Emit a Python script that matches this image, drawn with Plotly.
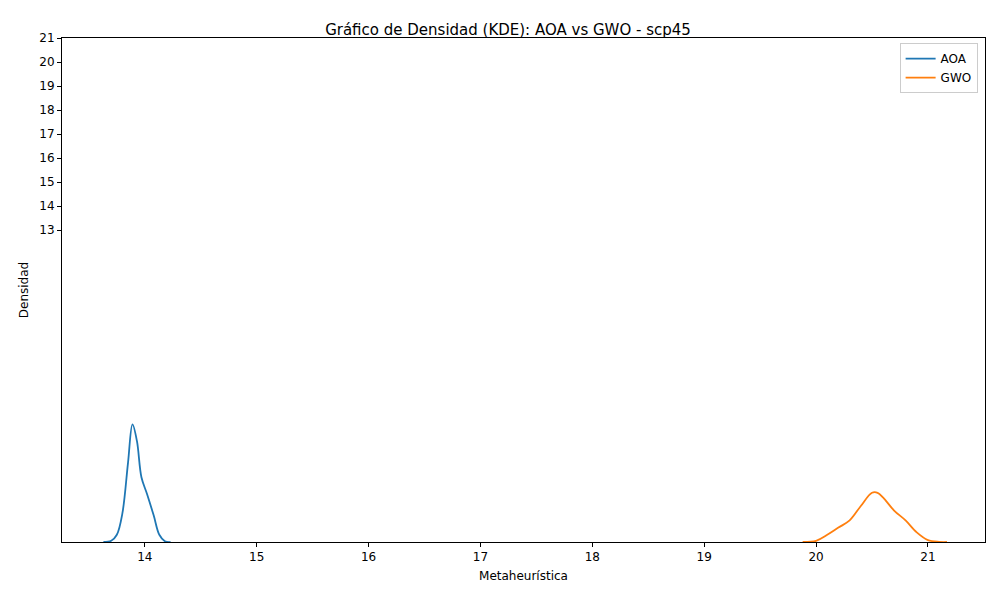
import plotly.graph_objects as go

# KDE curves
aoa_x = [13.63, 13.70, 13.75, 13.80, 13.85, 13.89, 13.93, 13.97, 14.02, 14.08, 14.13, 14.18, 14.23]
aoa_y = [0.0, 0.05, 0.3, 1.2, 3.3, 4.9, 4.2, 2.7, 2.0, 1.1, 0.3, 0.03, 0.0]
gwo_x = [19.88, 20.0, 20.1, 20.2, 20.3, 20.4, 20.5, 20.55, 20.6, 20.7, 20.8, 20.9, 21.0, 21.1, 21.17]
gwo_y = [0.0, 0.05, 0.3, 0.6, 0.9, 1.5, 2.05, 2.05, 1.85, 1.3, 0.9, 0.4, 0.08, 0.005, 0.0]
x_ticks = [14, 15, 16, 17, 18, 19, 20, 21]
y_ticks = [13, 14, 15, 16, 17, 18, 19, 20, 21]

fig = go.Figure()
fig.add_trace(go.Scatter(x=aoa_x, y=aoa_y, mode="lines", name="AOA",
                         line=dict(color="#1f77b4", width=1.8, shape="spline")))
fig.add_trace(go.Scatter(x=gwo_x, y=gwo_y, mode="lines", name="GWO",
                         line=dict(color="#ff7f0e", width=1.8, shape="spline")))

axis = dict(showline=True, linecolor="black", mirror=True, showgrid=False, zeroline=False,
            ticks="outside", ticklen=4, tickcolor="black", automargin=False)
fig.update_layout(
    width=1000, height=600,
    plot_bgcolor="white", paper_bgcolor="white",
    font=dict(family="DejaVu Sans", size=12, color="black"),
    title=dict(text="Gráfico de Densidad (KDE): AOA vs GWO - scp45", x=0.5, y=0.972,
               font=dict(size=15)),
    margin=dict(l=54, r=23, t=30, b=66),
    xaxis=dict(axis, range=[13.26, 21.51], tickvals=x_ticks,
               title=dict(text="Metaheurística", font=dict(size=12), standoff=8)),
    yaxis=dict(axis, range=[0, 21], tickvals=y_ticks,
               title=dict(text="Densidad", font=dict(size=12), standoff=8)),
    legend=dict(x=0.992, y=0.99, xanchor="right", yanchor="top", bordercolor="#cccccc", borderwidth=1,
                bgcolor="white"),
)
fig.write_html("out.html")
